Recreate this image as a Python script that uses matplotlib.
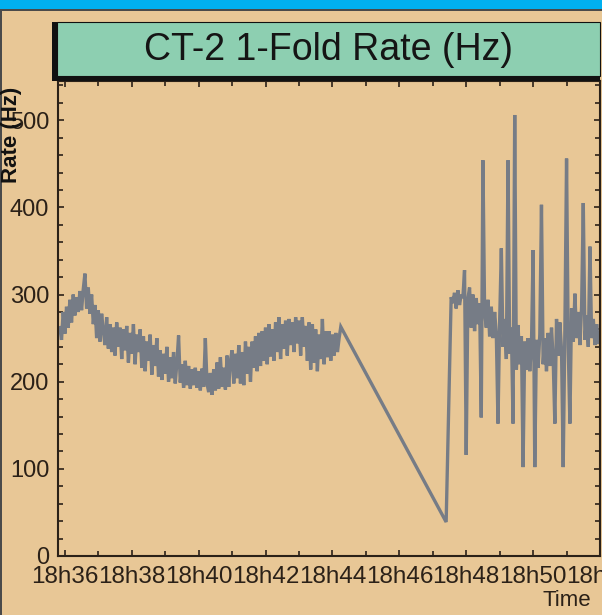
import numpy as np
import matplotlib
matplotlib.use("Agg")
import matplotlib.pyplot as plt
from matplotlib.patches import Rectangle
from matplotlib.ticker import MultipleLocator, FixedLocator, FixedFormatter

# ---------------- data ----------------
# time in minutes after 18h36, regular sampling
seg1_start = -0.15
seg2_start = 11.40
sample_step = 0.05

seg1_rate = [
    262, 248, 280, 255, 286, 262, 294, 268, 300, 276,
    297, 280, 304, 282, 306, 324, 284, 308, 278, 300,
    266, 288, 250, 282, 246, 278, 258, 242, 274, 238,
    266, 234, 262, 230, 268, 240, 262, 226, 260, 236,
    264, 222, 256, 232, 266, 220, 254, 234, 260, 216,
    252, 212, 246, 224, 254, 208, 242, 218, 250, 206,
    236, 202, 232, 209, 240, 200, 228, 204, 234, 198,
    222, 253, 199, 220, 193, 224, 196, 218, 192, 214,
    196, 216, 193, 212, 190, 215, 194, 250, 198, 188,
    210, 185, 214, 190, 222, 192, 228, 194, 216, 191,
    230, 194, 224, 236, 198, 232, 204, 242, 198, 234,
    196, 246, 209, 240, 200, 246, 216, 252, 212, 256,
    218, 258, 224, 262, 220, 266, 229, 260, 224, 268,
    234, 274, 226, 266, 238, 270, 230, 272, 242, 268,
    234, 274, 244, 270, 230, 274, 240, 264, 224, 268,
    214, 266, 222, 260, 212, 254, 226, 272, 220, 258,
    228, 258, 224, 254, 230, 256, 234, 250, 263,
]

seg2_rate = [
    39, 125, 213, 297, 290, 302, 284, 305, 288, 300,
    296, 328, 116, 295, 308, 262, 300, 258, 296, 266,
    290, 159, 454, 280, 262, 294, 252, 286, 250, 280,
    255, 152, 270, 353, 240, 272, 226, 454, 232, 262,
    152, 506, 214, 265, 220, 252, 102, 246, 214, 250,
    212, 240, 351, 102, 248, 216, 254, 403, 220, 250,
    212, 256, 218, 262, 226, 152, 272, 230, 268, 236,
    102, 260, 456, 240, 152, 284, 246, 301, 250, 280,
    242, 286, 405, 248, 276, 240, 355, 250, 272, 242,
    266, 245,
]

tick_minutes = list(range(0, 17, 2))
tick_labels = ["18h36", "18h38", "18h40", "18h42", "18h44",
               "18h46", "18h48", "18h50", "18h52"]
y_ticks = [0, 100, 200, 300, 400, 500]

title = "CT-2 1-Fold Rate (Hz)"
ylabel = "Rate (Hz)"
xlabel = "Time"

# ---------------- style ----------------
W, H = 602, 615
BG = "#E8C796"
TEAL = "#8DCFB1"
LINE = "#767C86"
DARK = "#2B2118"
FONT = ["Liberation Sans", "DejaVu Sans"]
plt.rcParams["font.family"] = FONT

fig = plt.figure(figsize=(W / 100, H / 100), dpi=100)
fig.patch.set_facecolor(BG)

def fx(px):
    return px / W

def fy(py):
    return 1 - py / H

# top blue strip and frame edges
fig.patches.append(Rectangle((0, fy(9)), 1, 9 / H, transform=fig.transFigure,
                             facecolor="#00B0F0", edgecolor="none", zorder=0))
fig.patches.append(Rectangle((0, fy(10.5)), 1, 1.5 / H, transform=fig.transFigure,
                             facecolor="#4a4a4a", edgecolor="none", zorder=0))
fig.patches.append(Rectangle((0, 0), 2 / W, fy(10), transform=fig.transFigure,
                             facecolor="#4a4a4a", edgecolor="none", zorder=0))

# title box with dark shadow on left/bottom
fig.patches.append(Rectangle((fx(52), fy(81)), fx(600 - 52), (81 - 22) / H,
                             transform=fig.transFigure, facecolor="#111111",
                             edgecolor="none", zorder=1))
fig.patches.append(Rectangle((fx(57), fy(76)), fx(600 - 57), (76 - 22) / H,
                             transform=fig.transFigure, facecolor=TEAL,
                             edgecolor="#111111", linewidth=0.8, zorder=2))
fig.text(fx(328), fy(50), title, ha="center", va="center", fontsize=27,
         color="#151515", zorder=3)

# axes
ax = fig.add_axes([fx(57.5), fy(556), fx(600 - 57.5), (556 - 81) / H])
ax.set_facecolor(BG)

t1 = seg1_start + sample_step * np.arange(len(seg1_rate))
t2 = seg2_start + sample_step * np.arange(len(seg2_rate))
t = np.concatenate([t1, t2])
r = np.concatenate([np.array(seg1_rate, float), np.array(seg2_rate, float)])
ax.plot(t, r, color=LINE, linewidth=2.4, solid_joinstyle="miter")

ax.set_xlim(-0.22, 16.0)
ax.set_ylim(0, 545)

ax.xaxis.set_major_locator(FixedLocator(tick_minutes))
ax.xaxis.set_major_formatter(FixedFormatter(tick_labels))
ax.xaxis.set_minor_locator(MultipleLocator(1))
ax.yaxis.set_major_locator(FixedLocator(y_ticks))
ax.yaxis.set_minor_locator(MultipleLocator(20))

ax.tick_params(which="both", direction="in", top=True, right=True,
               color=DARK, width=1.2)
ax.tick_params(which="major", length=4.5)
ax.tick_params(which="minor", length=3.5)
ax.tick_params(axis="x", which="major", labelsize=17.5, pad=7, labelcolor=DARK)
ax.tick_params(axis="y", which="major", labelsize=17, pad=6, labelcolor=DARK)

for s in ax.spines.values():
    s.set_color(DARK)
    s.set_linewidth(1.5)

fig.text(fx(12), fy(135), ylabel, rotation=90, ha="center", va="center",
         fontsize=16, fontweight="bold", color="#111111")
fig.text(fx(567), fy(600), xlabel, ha="center", va="center",
         fontsize=16, color=DARK)

fig.savefig("out.png", dpi=100, facecolor=BG)
